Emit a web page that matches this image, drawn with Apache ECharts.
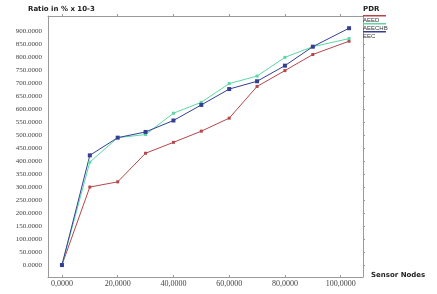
<!DOCTYPE html>
<html><head><meta charset="utf-8">
<script src="https://cdn.jsdelivr.net/npm/echarts@6/dist/echarts.min.js"></script>
<style>html,body{margin:0;padding:0;background:#fff}#c{width:437px;height:294px}</style>
</head><body><div id="c"></div>
<script>
var sensorNodes = [0, 10, 20, 30, 40, 50, 60, 70, 80, 90, 103];
var aeed   = [0, 300, 320, 430, 472, 515, 565, 687, 748, 810, 861];
var aeechb = [0, 396, 490, 502, 584, 626, 698, 727, 799, 840, 871];
var eec    = [0, 422, 490, 512, 556, 616, 677, 707, 767, 840, 911];
var seriesNames = ['AEED', 'AEECHB', 'EEC'];
var seriesColors = ['#b5474b', '#5ad8a6', '#353f92'];
var xTicks = [0, 20, 40, 60, 80, 100];
var yTicks = [0, 50, 100, 150, 200, 250, 300, 350, 400, 450, 500, 550, 600, 650, 700, 750, 800, 850, 900];

function pairs(v) { return sensorNodes.map(function (x, i) { return [x, v[i]]; }); }
var values = [aeed, aeechb, eec];
var chart = echarts.init(document.getElementById('c'), null, {renderer: 'canvas'});
var axisColor = '#9a9a9a';
var boldTitle = {fontFamily: 'DejaVu Sans', fontSize: 7, fontWeight: 'bold', color: '#222'};
chart.setOption({
  animation: false,
  backgroundColor: '#fff',
  grid: {left: 48, right: 74, top: 16, bottom: 17},
  title: [
    {text: 'Ratio in % x 10-3', left: 28, top: 6, padding: 0, textStyle: boldTitle},
    {text: 'PDR', left: 363, top: 6, padding: 0, textStyle: boldTitle},
    {text: 'Sensor Nodes', left: 371, top: 272, padding: 0, textStyle: boldTitle}
  ],
  legend: [
    {orient: 'vertical', left: 363, top: 15, padding: 0, itemGap: 0, itemWidth: 23, itemHeight: 8,
     icon: 'path://M0,0 L23,0 L23,1.4 L0,1.4 Z M0,8 L0.01,8 L0.01,8.01 L0,8.01 Z',
     formatter: function () { return ''; },
     textStyle: {fontSize: 1},
     data: seriesNames},
    {orient: 'vertical', left: 358, top: 16.5, padding: 0, itemGap: 0, itemWidth: 0, itemHeight: 8,
     icon: 'rect',
     textStyle: {fontFamily: 'Liberation Sans', fontSize: 6, color: '#333', lineHeight: 8},
     data: seriesNames}
  ],
  xAxis: [
    {type: 'value', min: -5, max: 108, position: 'bottom',
     axisLine: {show: true, onZero: false, lineStyle: {color: axisColor, width: 1}},
     axisTick: {show: true, inside: true, length: 2, customValues: xTicks, lineStyle: {color: axisColor}},
     splitLine: {show: false},
     axisLabel: {customValues: xTicks, fontSize: 8, margin: 3, color: '#444', fontFamily: 'Liberation Serif',
       formatter: function (v) { return v.toFixed(4).replace('.', ','); }}},
    {type: 'value', min: -5, max: 108, position: 'top',
     axisLine: {show: true, onZero: false, lineStyle: {color: axisColor, width: 1}},
     axisTick: {show: true, inside: false, length: 2, customValues: xTicks, lineStyle: {color: axisColor}},
     splitLine: {show: false}, axisLabel: {show: false}}
  ],
  yAxis: [
    {type: 'value', min: -46, max: 958, position: 'left',
     axisLine: {show: true, onZero: false, lineStyle: {color: axisColor, width: 1}},
     axisTick: {show: false, customValues: yTicks},
     splitLine: {show: false},
     axisLabel: {customValues: yTicks, fontSize: 7, margin: 6, color: '#444', fontFamily: 'Liberation Serif',
       formatter: function (v) { return v.toFixed(4); }}},
    {type: 'value', min: -46, max: 958, position: 'right',
     axisLine: {show: true, onZero: false, lineStyle: {color: axisColor, width: 1}},
     axisTick: {show: true, inside: false, length: 2, customValues: yTicks, lineStyle: {color: axisColor}},
     splitLine: {show: false}, axisLabel: {show: false}}
  ],
  series: seriesNames.map(function (n, i) {
    return {
      name: n, type: 'line', data: pairs(values[i]),
      symbol: 'rect', symbolSize: i === 2 ? 4 : 3, showSymbol: true,
      lineStyle: {width: 1, color: seriesColors[i]},
      itemStyle: {color: seriesColors[i]}
    };
  })
});
</script></body></html>
